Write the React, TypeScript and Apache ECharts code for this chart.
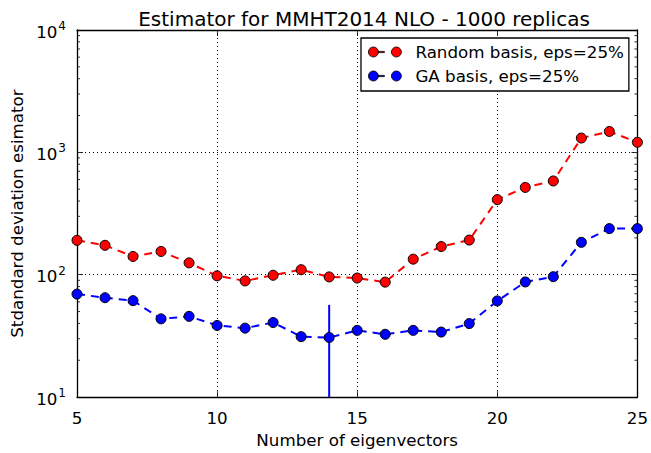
import React, { useEffect, useRef } from "react";
import * as echarts from "echarts";

const eigenvectors = [5, 6, 7, 8, 9, 10, 11, 12, 13, 14, 15, 16, 17, 18, 19, 20, 21, 22, 23, 24, 25];
const randomBasis = [191, 174, 141, 155, 125, 98, 89, 99, 110, 96, 94, 87, 134, 170, 192, 411, 517, 584, 1309, 1482, 1209];
const gaBasis = [69.5, 64.9, 61.4, 43.6, 45.7, 38.5, 36.6, 40.7, 31.2, 30.7, 35.1, 32.6, 35.1, 34.0, 39.9, 61.1, 87.3, 96.4, 183.9, 238.2, 238.2];
// error bar on GA basis at 14 eigenvectors: [x, centre, half-width]
const gaErrorBars = [[14, 30.7, 26]];
const minorTickValues = [20, 30, 40, 50, 60, 70, 80, 90, 200, 300, 400, 500, 600, 700, 800, 900, 2000, 3000, 4000, 5000, 6000, 7000, 8000, 9000];
const seriesNames = ["Random basis, eps=25%", "GA basis, eps=25%"];
const xMin = 5, xMax = 25, xInterval = 5;
const yMin = 10, yMax = 10000;

const FONT = "DejaVu Sans";
const legendIcon =
  "path://M0,5a5,5 0 1,0 10,0a5,5 0 1,0 -10,0Z M10,4.4h6v1.2h-6Z M23,5a5,5 0 1,0 10,0a5,5 0 1,0 -10,0Z";

export default function App() {
  const ref = useRef<HTMLDivElement>(null);
  useEffect(() => {
    if (!ref.current) return;
    const chart = echarts.init(ref.current, null, { renderer: "svg" });
    const axisLine = { show: true, lineStyle: { color: "#000", width: 1.3 } };
    const tick = { show: true, inside: true, length: 6, lineStyle: { color: "#000", width: 0.8 } };
    const dotted = { show: true, lineStyle: { color: "#000", width: 1, type: [1, 3] as any } };
    const option: any = {
      animation: false,
      backgroundColor: "#fff",
      textStyle: { fontFamily: FONT },
      title: {
        text: "Estimator for MMHT2014 NLO - 1000 replicas",
        left: 359,
        top: 4,
        textAlign: "center",
        textStyle: { fontFamily: FONT, fontSize: 20, fontWeight: "normal", color: "#000" },
      },
      legend: {
        data: seriesNames,
        orient: "vertical",
        left: 361,
        top: 38,
        padding: [4, 5, 5, 7],
        itemGap: 4,
        itemWidth: 33,
        itemHeight: 10,
        icon: legendIcon,
        backgroundColor: "#fff",
        borderColor: "#000",
        borderWidth: 1.3,
        borderRadius: 0,
        itemStyle: { borderColor: "#000", borderWidth: 0.8 },
        textStyle: { fontFamily: FONT, fontSize: 16.7, color: "#000", lineHeight: 20, padding: [0, 0, 0, 9] },
      },
      grid: { left: 77, right: 13, top: 30, bottom: 49, containLabel: false },
      xAxis: [
        {
          type: "value",
          min: xMin,
          max: xMax,
          interval: xInterval,
          position: "bottom",
          name: "Number of eigenvectors",
          nameLocation: "middle",
          nameGap: 27,
          nameTextStyle: { fontFamily: FONT, fontSize: 16.7, color: "#000" },
          axisLine,
          axisTick: tick,
          axisLabel: { fontFamily: FONT, fontSize: 16.7, color: "#000", margin: 12 },
          splitLine: dotted,
        },
        {
          type: "value",
          min: xMin,
          max: xMax,
          interval: xInterval,
          position: "top",
          axisLine,
          axisTick: tick,
          axisLabel: { show: false },
          splitLine: { show: false },
        },
      ],
      yAxis: [
        {
          type: "log",
          logBase: 10,
          min: yMin,
          max: yMax,
          splitNumber: 3,
          position: "left",
          name: "Stdandard deviation esimator",
          nameLocation: "middle",
          nameGap: 50,
          nameTextStyle: { fontFamily: FONT, fontSize: 16.7, color: "#000" },
          axisLine,
          axisTick: tick,
          axisLabel: {
            margin: 11,
            formatter: (v: number) => `{b|10}{s|${Math.round(Math.log10(v))}}`,
            rich: {
              b: { fontFamily: FONT, fontSize: 16.7, color: "#000", lineHeight: 20, verticalAlign: "bottom" },
              s: { fontFamily: FONT, fontSize: 12, color: "#000", lineHeight: 20, verticalAlign: "top", padding: [0, 0, 10, 1] },
            },
          },
          splitLine: dotted,
        },
        {
          type: "log",
          logBase: 10,
          min: yMin,
          max: yMax,
          splitNumber: 3,
          position: "right",
          axisLine,
          axisTick: tick,
          axisLabel: { show: false },
          splitLine: { show: false },
        },
      ],
      series: [
        {
          type: "custom",
          name: "minorTicks",
          silent: true,
          xAxisIndex: 0,
          yAxisIndex: 0,
          data: minorTickValues.map((v) => [xMin, v]),
          encode: { x: 0, y: 1 },
          renderItem: (_p: any, api: any) => {
            const v = api.value(1);
            const l = api.coord([xMin, v]);
            const r = api.coord([xMax, v]);
            const st = { stroke: "#000", lineWidth: 0.8 };
            return {
              type: "group",
              children: [
                { type: "line", shape: { x1: l[0], y1: l[1], x2: l[0] + 3, y2: l[1] }, style: st },
                { type: "line", shape: { x1: r[0], y1: r[1], x2: r[0] - 3, y2: r[1] }, style: st },
              ],
            };
          },
          z: 1,
        },
        {
          type: "custom",
          name: "gaError",
          silent: true,
          clip: true,
          data: gaErrorBars,
          encode: { x: 0, y: 1 },
          renderItem: (_p: any, api: any) => {
            const x = api.value(0);
            const c = api.value(1);
            const e = api.value(2);
            const top = api.coord([x, c + e]);
            const bot = api.coord([x, Math.max(c - e, 1)]);
            return {
              type: "line",
              shape: { x1: top[0], y1: top[1], x2: bot[0], y2: bot[1] },
              style: { stroke: "#0000ff", lineWidth: 2 },
            };
          },
          z: 2,
        },
        {
          type: "line",
          name: seriesNames[1],
          data: eigenvectors.map((x, i) => [x, gaBasis[i]]),
          symbol: "circle",
          symbolSize: 10,
          itemStyle: { color: "#0000ff", borderColor: "#000", borderWidth: 1 },
          lineStyle: { color: "#0000ff", width: 2, type: [8, 6] },
          z: 3,
        },
        {
          type: "line",
          name: seriesNames[0],
          data: eigenvectors.map((x, i) => [x, randomBasis[i]]),
          symbol: "circle",
          symbolSize: 10,
          itemStyle: { color: "#ff0000", borderColor: "#000", borderWidth: 1 },
          lineStyle: { color: "#ff0000", width: 2, type: [8, 6] },
          z: 4,
        },
      ],
    };
    chart.setOption(option);
    return () => chart.dispose();
  }, []);
  return (
    <div
      ref={ref}
      style={{ position: "fixed", left: 0, top: 0, width: 651, height: 453, background: "#fff" }}
    />
  );
}
